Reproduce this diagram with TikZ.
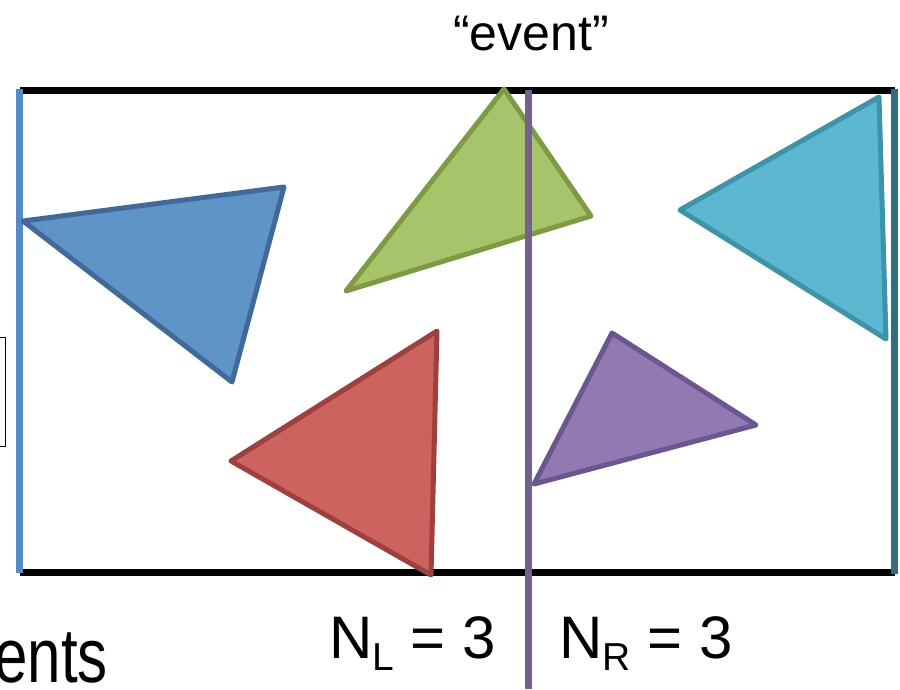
\documentclass[tikz,border=0pt]{standalone}
\usepackage{fontspec}
\setmainfont{Liberation Sans}
\definecolor{blueFill}{HTML}{5F94C9}
\definecolor{blueLine}{HTML}{41699A}
\definecolor{greenFill}{HTML}{A8C46B}
\definecolor{greenLine}{HTML}{7D9A45}
\definecolor{redFill}{HTML}{CC635F}
\definecolor{redLine}{HTML}{9E403D}
\definecolor{purpleFill}{HTML}{9379B1}
\definecolor{purpleLine}{HTML}{6B5790}
\definecolor{aquaFill}{HTML}{5BB8D0}
\definecolor{aquaLine}{HTML}{3F93A8}
\definecolor{leftBlue}{HTML}{568CC6}
\definecolor{splitPurple}{HTML}{76608F}
\definecolor{rightTeal}{HTML}{2F6E7C}

\begin{document}
\begin{tikzpicture}[x=1pt,y=-1pt,
  tri/.style={line width=5pt,line join=round},
  rule/.style={line width=7pt},
  lbl/.style={inner sep=0pt,anchor=base west}]
\useasboundingbox (0,0) rectangle (900,689);
% box cut off at the left edge
\draw[line width=1pt,fill=white] (-20,337) rectangle (5,446);
\draw[rule,black] (20,90)--(895,90);
\draw[rule,black] (20,572)--(895,572);
\draw[rule,leftBlue] (19.5,89)--(19.5,573);
\draw[rule,rightTeal] (894.5,89)--(894.5,574);
% triangles
\draw[tri,draw=blueLine,fill=blueFill] (23,221)--(284,187)--(232,382)--cycle;
\draw[tri,draw=greenLine,fill=greenFill] (504,89)--(591,216)--(346,291)--cycle;
\draw[tri,draw=redLine,fill=redFill] (437,331)--(431,575)--(231,461)--cycle;
\draw[tri,draw=aquaLine,fill=aquaFill] (879,97)--(886,339)--(680,210)--cycle;
% split plane
\draw[line width=7pt,splitPurple] (528,90)--(528,689);
\draw[tri,draw=purpleLine,fill=purpleFill] (612,333)--(756,425)--(534,484)--cycle;
% labels
\node[inner sep=0pt,anchor=base] (event) at (531,50) {\fontsize{50}{50}\selectfont “event”};
\node[lbl] (nl) at (329,658) {\fontsize{60}{60}\selectfont N\raisebox{-12pt}{\fontsize{39}{39}\selectfont L} = 3};
\node[lbl] (nr) at (559,658) {\fontsize{60}{60}\selectfont N\raisebox{-12pt}{\fontsize{39}{39}\selectfont R} = 3};
\node[inner sep=0pt,anchor=base east,xscale=0.78] (ents) at (108,682) {\fontsize{77}{77}\selectfont events};
\end{tikzpicture}
\end{document}
